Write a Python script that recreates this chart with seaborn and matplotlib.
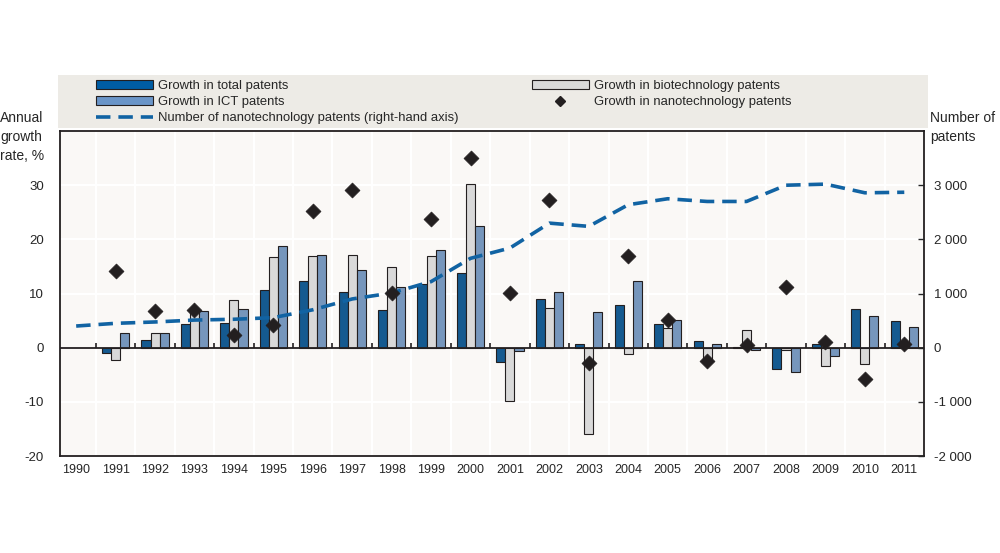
import numpy as np
import pandas as pd
import matplotlib
matplotlib.use("Agg")
import matplotlib.pyplot as plt
from matplotlib.patches import Patch, Rectangle
from matplotlib.lines import Line2D
import seaborn as sns

# data
years = [str(y) for y in range(1990, 2012)]
total = [np.nan, -0.9, 1.4, 4.3, 4.6, 10.7, 12.3, 10.2, 7.0, 11.8, 13.8,
         -2.7, 9.0, 0.6, 7.8, 4.4, 1.3, 0.2, -3.9, 0.6, 7.1, 4.9]
biotech = [np.nan, -2.3, 2.65, 6.6, 8.8, 16.7, 17.0, 17.2, 14.9, 17.0, 30.3,
           -9.9, 7.3, -16.0, -1.2, 3.6, -2.1, 3.3, -0.5, -3.3, -3.1, 0.0]
ict = [np.nan, 2.8, 2.8, 6.7, 7.1, 18.8, 17.2, 14.4, 11.2, 18.1, 22.5,
       -0.7, 10.2, 6.5, 12.3, 5.1, 0.7, -0.4, -4.4, -1.6, 5.9, 3.9]
nano_growth = [np.nan, 14.1, 6.7, 7.0, 2.3, 4.2, 25.3, 29.1, 10.1, 23.7, 35.1,
               10.1, 27.2, -2.8, 17.0, 5.1, -2.4, 0.5, 11.2, 1.0, -5.8, 0.6]
nano_count = [400, 450, 475, 510, 525, 555, 700, 900, 1010, 1220, 1650,
              1840, 2300, 2240, 2640, 2750, 2700, 2700, 3000, 3020, 2860, 2870]

lbl_total = "Growth in total patents"
lbl_bio = "Growth in biotechnology patents"
lbl_ict = "Growth in ICT patents"
lbl_nano = "Growth in nanotechnology patents"
lbl_count = "Number of nanotechnology patents (right-hand axis)"

c_total = "#005DA4"
c_bio = "#D9D9D9"
c_ict = "#6A95C8"
c_line = "#1163A3"
c_edge = "#231F20"

bars = pd.DataFrame({
    "year": years * 3,
    "value": total + biotech + ict,
    "series": [lbl_total] * 22 + [lbl_bio] * 22 + [lbl_ict] * 22,
})

sns.set_style("white")
plt.rcParams["font.family"] = ["Liberation Sans", "DejaVu Sans"]
plt.rcParams["axes.unicode_minus"] = False

fig = plt.figure(figsize=(10, 5.53), dpi=100)
ax = fig.add_axes([0.06, 0.1754, 0.864, 0.5876])
ax.set_facecolor("#FAF8F6")

sns.barplot(data=bars, x="year", y="value", hue="series", order=years,
            hue_order=[lbl_total, lbl_bio, lbl_ict],
            palette=[c_total, c_bio, c_ict], width=0.69, gap=0,
            edgecolor=c_edge, linewidth=0.8, legend=False, ax=ax, zorder=3)

pos = np.arange(len(years))
ax.set_xlim(-0.41, len(years) - 0.5)
ax.set_ylim(-20, 40)
ax.set_yticks([-20, -10, 0, 10, 20, 30])
ax.set_xticks(pos)
ax.set_xticklabels(years, fontsize=9)
ax.set_xticks(pos[:-1] + 0.5, minor=True)
ax.grid(True, axis="y", color="white", linewidth=1.5, zorder=0)
ax.grid(True, axis="x", which="minor", color="white", linewidth=1.5, zorder=0)
ax.set_axisbelow(True)
ax.axhline(0, color=c_edge, linewidth=1.3, zorder=4)
ax.vlines(pos[:-1] + 0.5, 0, 0.8, color=c_edge, linewidth=1.2, zorder=4)
ax.tick_params(axis="x", which="both", length=0, pad=6)
ax.tick_params(axis="y", length=0, pad=11.5, labelsize=9.5)
ax.set_xlabel("")
ax.set_ylabel("")
for s in ax.spines.values():
    s.set_color(c_edge)
    s.set_linewidth(1.3)

# right-hand axis: number of nanotech patents
ax2 = ax.twinx()
sns.lineplot(x=pos, y=nano_count, ax=ax2, color=c_line, linewidth=2.6,
             dashes=False)
ax2.lines[0].set_dashes((4, 2.2))
ax2.set_ylim(-2000, 4000)
ax2.set_yticks([-2000, -1000, 0, 1000, 2000, 3000])
ax2.set_yticklabels([f"{v:,.0f}".replace(",", " ") for v in ax2.get_yticks()],
                    fontsize=9.5)
ax2.tick_params(axis="y", direction="in", length=4, width=1, pad=7)
for s in ax2.spines.values():
    s.set_visible(False)

# diamonds on top of everything, left-axis scale
ax3 = ax.twinx()
sns.scatterplot(x=pos, y=nano_growth, ax=ax3, marker="D", s=58,
                color=c_edge, edgecolor=c_edge, linewidth=0.5)
ax3.set_ylim(ax.get_ylim())
ax3.axis("off")
ax.set_xlim(-0.41, len(years) - 0.5)

# legend panel
fig.patches.append(Rectangle((0.058, 0.7685), 0.87, 0.0958,
                             transform=fig.transFigure, facecolor="#EDEBE6",
                             edgecolor="none", zorder=0))
handles = [
    Patch(facecolor=c_total, edgecolor=c_edge, linewidth=0.8),
    Patch(facecolor=c_ict, edgecolor=c_edge, linewidth=0.8),
    Line2D([], [], color=c_line, linewidth=2.6, dashes=(4, 2.2)),
    Patch(facecolor=c_bio, edgecolor=c_edge, linewidth=0.8),
    Line2D([], [], color=c_edge, marker="D", linestyle="none", markersize=5.5),
]
labels = [lbl_total, lbl_ict, lbl_count, lbl_bio, lbl_nano]
fig.legend(handles, labels, loc="upper left", bbox_to_anchor=(0.096, 1 - 80 / 553),
           ncol=2, frameon=False, fontsize=9.4, borderpad=0, handlelength=4.4,
           handleheight=0.7, handletextpad=0.35, labelspacing=0.3,
           columnspacing=5.6, borderaxespad=0)

fig.text(0.0, 1 - 111 / 553, "Annual\ngrowth\nrate, %", ha="left", va="top",
         fontsize=10, linespacing=1.45)
fig.text(0.930, 1 - 111 / 553, "Number of\npatents", ha="left", va="top",
         fontsize=10, linespacing=1.45)

fig.savefig("out.png", dpi=100)
